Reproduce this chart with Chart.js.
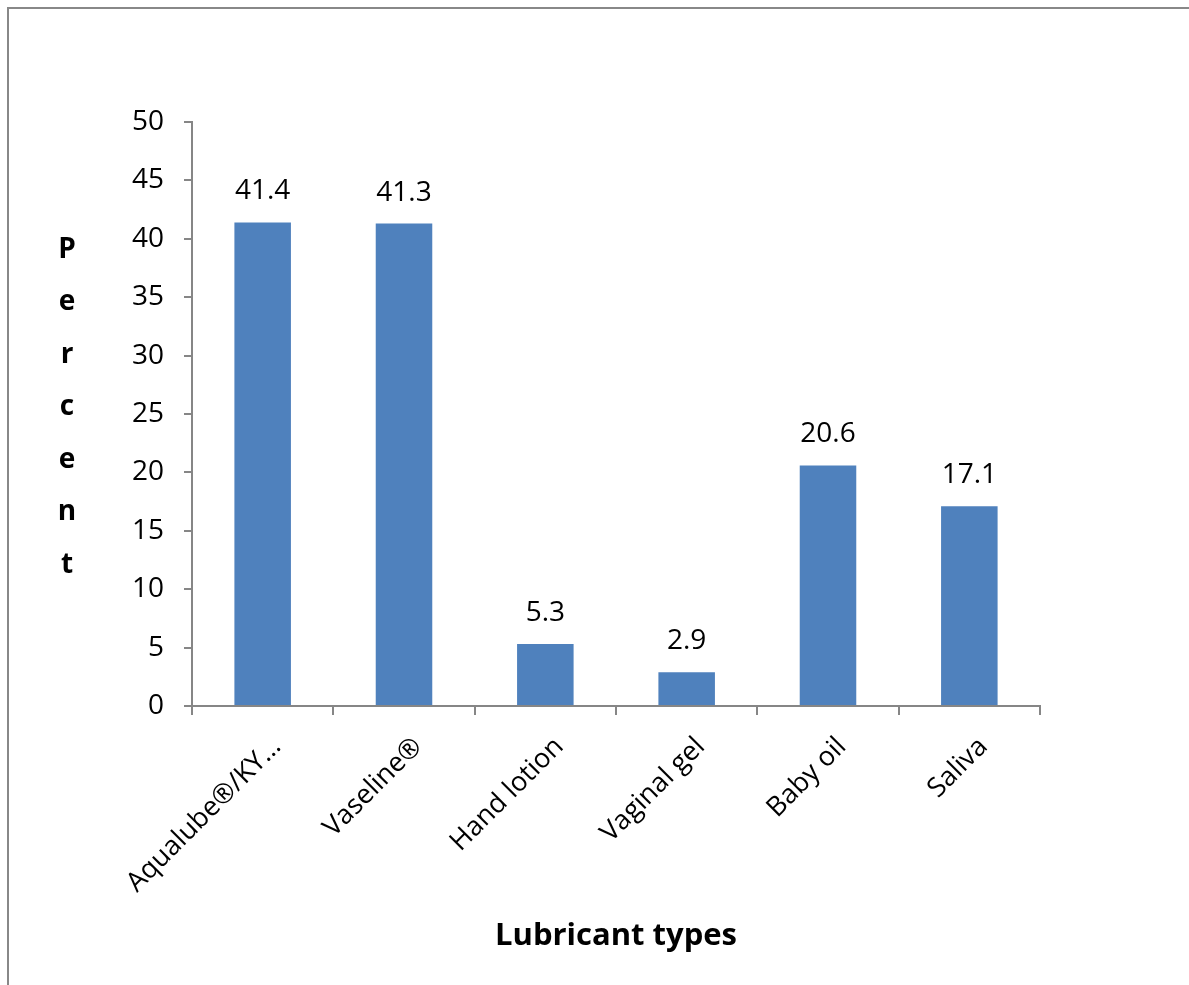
<!DOCTYPE html>
<html>
<head>
<meta charset="utf-8">
<script src="https://cdn.jsdelivr.net/npm/chart.js@4"></script>
<style>
  body { margin: 0; background: #fff; }
  #wrap { width: 1189px; height: 985px; }
</style>
</head>
<body>
<div id="wrap"><canvas id="chart"></canvas></div>
<script>
// data
const categories = ['Aqualube®/KY…', 'Vaseline®', 'Hand lotion', 'Vaginal gel', 'Baby oil', 'Saliva']
const percents   = [41.4, 41.3, 5.3, 2.9, 20.6, 17.1]
const yTicks     = [0, 5, 10, 15, 20, 25, 30, 35, 40, 45, 50]
const yTitle     = 'Percent'
const xTitle     = 'Lubricant types'

const fontFam = "'Open Sans', sans-serif"
const axisGray = '#868686'

// outer frame (only left/top edges are in view)
const framePlugin = {
    id: 'frame',
    beforeDraw(chart) {
        const ctx = chart.ctx
        ctx.save()
        ctx.fillStyle = '#fff'
        ctx.fillRect(0, 0, chart.width, chart.height)
        ctx.strokeStyle = '#888'
        ctx.lineWidth = 2
        ctx.beginPath()
        ctx.moveTo(8, chart.height)
        ctx.lineTo(8, 8)
        ctx.lineTo(chart.width, 8)
        ctx.stroke()
        ctx.restore()
    }
}

// value labels above bars
const valuePlugin = {
    id: 'values',
    afterDatasetsDraw(chart) {
        const ctx = chart.ctx
        const meta = chart.getDatasetMeta(0)
        ctx.save()
        ctx.font = '28px ' + fontFam
        ctx.fillStyle = '#000'
        ctx.textAlign = 'center'
        ctx.textBaseline = 'middle'
        meta.data.forEach((bar, i) => {
            ctx.fillText(percents[i].toFixed(1), bar.x, bar.y - 31)
        })
        ctx.restore()
    }
}

// y title written as stacked letters
const yTitlePlugin = {
    id: 'yTitle',
    afterDraw(chart) {
        const ctx = chart.ctx
        ctx.save()
        ctx.font = 'bold 28px ' + fontFam
        ctx.fillStyle = '#000'
        ctx.textAlign = 'center'
        ctx.textBaseline = 'middle'
        yTitle.split('').forEach((ch, i) => {
            ctx.fillText(ch, 67, 250 + i * 52.5)
        })
        ctx.restore()
    }
}

new Chart(document.getElementById('chart'), {
    type: 'bar',
    data: {
        labels: categories,
        datasets: [{
            data: percents,
            backgroundColor: '#4F81BD',
            borderWidth: 0,
            categoryPercentage: 1,
            barPercentage: 0.4
        }]
    },
    options: {
        responsive: true,
        maintainAspectRatio: false,
        animation: false,
        layout: { padding: { left: 92, right: 149, top: 122, bottom: 0 } },
        plugins: {
            legend: { display: false },
            tooltip: { enabled: false }
        },
        scales: {
            x: {
                grid: {
                    offset: true,
                    drawOnChartArea: false,
                    drawTicks: true,
                    tickLength: 9,
                    color: axisGray,
                    lineWidth: 2
                },
                border: { color: axisGray, width: 2 },
                ticks: {
                    color: '#000',
                    font: { family: fontFam, size: 27 },
                    minRotation: 45,
                    maxRotation: 45,
                    autoSkip: false,
                    padding: 16,
                    labelOffset: 14
                },
                title: {
                    display: true,
                    text: xTitle,
                    color: '#000',
                    font: { family: fontFam, size: 31, weight: 'bold' },
                    padding: { top: 30, bottom: 30 }
                },
                afterFit(scale) { scale.height = 279 }
            },
            y: {
                min: 0,
                max: 50,
                afterBuildTicks(scale) { scale.ticks = yTicks.map(v => ({ value: v })) },
                grid: {
                    drawOnChartArea: false,
                    tickLength: 8,
                    color: axisGray,
                    lineWidth: 2
                },
                border: { color: axisGray, width: 2 },
                ticks: {
                    color: '#000',
                    font: { family: fontFam, size: 28 },
                    padding: 20
                },
                afterFit(scale) { scale.width = 100 }
            }
        }
    },
    plugins: [framePlugin, valuePlugin, yTitlePlugin]
})
</script>
</body>
</html>
